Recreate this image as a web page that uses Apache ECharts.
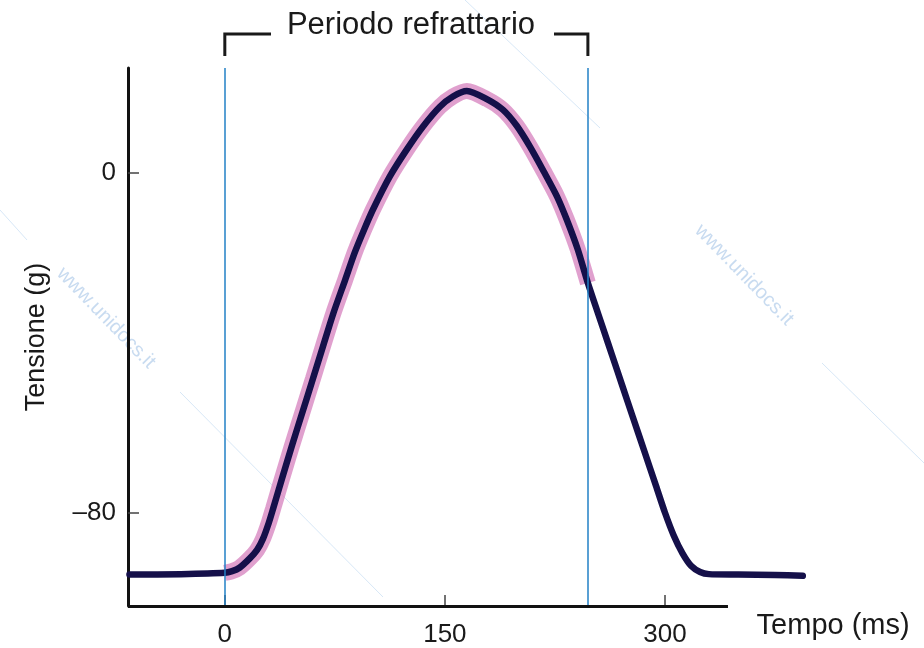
<!DOCTYPE html>
<html>
<head>
<meta charset="utf-8">
<title>Periodo refrattario</title>
<script src="https://cdn.jsdelivr.net/npm/echarts@6/dist/echarts.min.js"></script>
<style>
  html, body { margin: 0; padding: 0; background: #fff; }
  #chart { width: 924px; height: 648px; }
</style>
</head>
<body>
<div id="chart"></div>
<script>
// tempo (ms) e tensione (g)
const tempo = [-65, -30, 0, 5, 10, 17, 22, 26, 30, 33, 39, 46, 53, 60, 67, 74, 82, 88.6, 95, 101,
  112.5, 124, 135, 146.6, 155.5, 165, 178.6, 189.5, 199, 208, 217.5, 226.4, 233, 240.5, 247.5, 258,
  264, 271, 278, 286, 294, 300, 306, 312, 318, 324, 330, 350, 375, 394]
const tensione = [-94.6, -94.5, -94.2, -93.8, -93.0, -90.8, -88.8, -86.2, -82.4, -79, -72, -64, -56.3,
  -48.6, -40.8, -33.1, -25.3, -18.8, -13.4, -8.7, -0.9, 5.4, 10.8, 15.5, 17.9, 19.2, 17.3, 14.8, 11.0,
  6.1, 0.2, -5.6, -11.0, -18.0, -26.0, -36.8, -43, -50.2, -57.4, -65.6, -73.8, -80, -85.4, -89.6, -92.6,
  -94.0, -94.5, -94.6, -94.7, -94.9]
const refrattario = [0, 247.5] // inizio e fine del periodo refrattario
const xTicks = [0, 150, 300]
const yTicks = [0, -80]
const xRange = [-66, 400]
const xAxisEnd = 343 // la linea dell'asse x si ferma prima della fine della curva
const yRange = [-102, 24.6]

const curve = tempo.map((t, i) => [t, tensione[i]])
const glow = curve.filter(p => p[0] >= refrattario[0] && p[0] <= refrattario[1])

const FONT = 'Liberation Sans, Arial, sans-serif'
const chart = echarts.init(document.getElementById('chart'))

const option = {
  animation: false,
  backgroundColor: '#fff',
  grid: { left: 128, right: 112.4, top: 68, bottom: 40 },
  xAxis: {
    type: 'value',
    min: xRange[0],
    max: xRange[1],
    name: 'Tempo (ms)',
    nameLocation: 'end',
    nameGap: -55,
    nameTextStyle: { fontFamily: FONT, fontSize: 29, color: '#1a1a1a', verticalAlign: 'top', padding: [5, 0, 0, 0] },
    splitLine: { show: false },
    axisLine: { show: false, onZero: false },
    axisTick: { show: true, inside: true, length: 11, customValues: xTicks, lineStyle: { color: '#444', width: 1.5 } },
    axisLabel: { customValues: xTicks, margin: 16, fontFamily: FONT, fontSize: 26, color: '#1a1a1a' }
  },
  yAxis: {
    type: 'value',
    min: yRange[0],
    max: yRange[1],
    name: 'Tensione (g)',
    nameLocation: 'middle',
    nameGap: 78,
    nameTextStyle: { fontFamily: FONT, fontSize: 27, color: '#1a1a1a' },
    splitLine: { show: false },
    axisLine: { show: true, onZero: false, lineStyle: { color: '#111', width: 3 } },
    axisTick: { show: true, inside: true, length: 11, customValues: yTicks, lineStyle: { color: '#444', width: 1.5 } },
    axisLabel: { customValues: yTicks, margin: 12, fontFamily: FONT, fontSize: 26, color: '#1a1a1a',
      formatter: v => (v < 0 ? '\u2013' + Math.abs(v) : String(v)) }
  },
  series: [
    {
      type: 'line',
      data: glow,
      showSymbol: false,
      smooth: 0.25,
      z: 1,
      lineStyle: { color: 'rgba(214,128,190,0.75)', width: 16, cap: 'butt' },
      markLine: {
        silent: true,
        symbol: 'none',
        label: { show: false },
        lineStyle: { color: '#2280c6', width: 1.5, type: 'solid' },
        data: refrattario.map(v => ({ xAxis: v }))
      }
    },
    {
      type: 'line',
      data: curve,
      showSymbol: false,
      smooth: 0.25,
      z: 3,
      lineStyle: { color: '#15104a', width: 6.5, cap: 'round', join: 'round' },
      // linea dell'asse x, più corta della griglia
      markLine: {
        silent: true,
        symbol: 'none',
        label: { show: false },
        lineStyle: { color: '#111', width: 3, type: 'solid' },
        data: [[{ coord: [xRange[0], yRange[0]] }, { coord: [xAxisEnd, yRange[0]] }]]
      }
    }
  ]
}
chart.setOption(option)

// parentesi del periodo refrattario, agganciata alle linee blu
const xa = chart.convertToPixel({ gridIndex: 0 }, [refrattario[0], 0])[0]
const xb = chart.convertToPixel({ gridIndex: 0 }, [refrattario[1], 0])[0]
const bracketY = 34
const bracketLow = 56
const wmText = 'rgba(110,160,215,0.38)'
const wmLine = 'rgba(140,185,230,0.35)'
chart.setOption({
  graphic: [
    { type: 'polyline', shape: { points: [[xa, bracketLow], [xa, bracketY], [271, bracketY]] },
      style: { stroke: '#1a1a1a', lineWidth: 3, fill: null } },
    { type: 'polyline', shape: { points: [[554, bracketY], [xb, bracketY], [xb, bracketLow]] },
      style: { stroke: '#1a1a1a', lineWidth: 3, fill: null } },
    { type: 'text', x: 411, y: 25,
      style: { text: 'Periodo refrattario', font: '31px ' + FONT, fill: '#1a1a1a', align: 'center', verticalAlign: 'middle' } },
    // filigrana
    { type: 'text', x: 106, y: 318, rotation: -0.8, z: -1,
      style: { text: 'www.unidocs.it', font: '20px ' + FONT, fill: wmText, align: 'center', verticalAlign: 'middle' } },
    { type: 'text', x: 744, y: 275, rotation: -0.8, z: -1,
      style: { text: 'www.unidocs.it', font: '20px ' + FONT, fill: wmText, align: 'center', verticalAlign: 'middle' } },
    { type: 'line', z: -1, shape: { x1: 465, y1: 0, x2: 600, y2: 128 }, style: { stroke: wmLine, lineWidth: 1 } },
    { type: 'line', z: -1, shape: { x1: 180, y1: 392, x2: 383, y2: 597 }, style: { stroke: wmLine, lineWidth: 1 } },
    { type: 'line', z: -1, shape: { x1: 822, y1: 363, x2: 924, y2: 463 }, style: { stroke: wmLine, lineWidth: 1 } },
    { type: 'line', z: -1, shape: { x1: 0, y1: 210, x2: 27, y2: 240 }, style: { stroke: wmLine, lineWidth: 1 } }
  ]
})
</script>
</body>
</html>
